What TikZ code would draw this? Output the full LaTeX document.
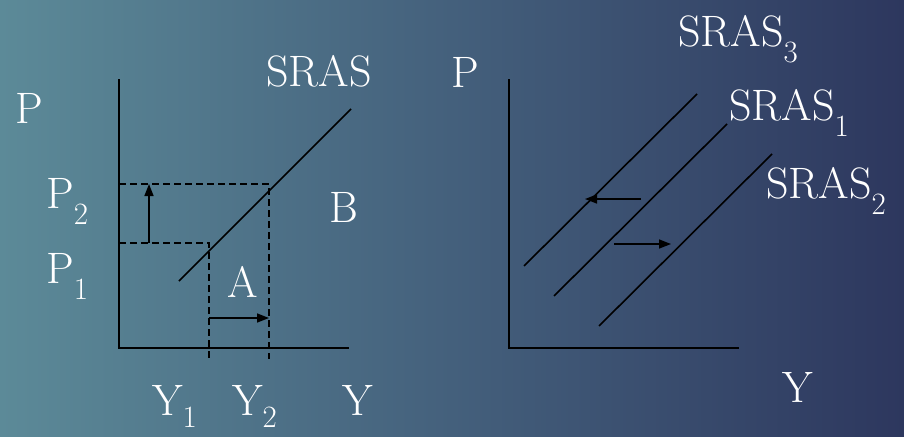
\documentclass[tikz,border=0pt]{standalone}
\usetikzlibrary{arrows.meta}
\definecolor{bgL}{RGB}{92,138,152}
\definecolor{bgM}{RGB}{68,96,124}
\definecolor{bgR}{RGB}{45,55,94}
\newcommand\subs[1]{\raisebox{-16pt}{\fontsize{31}{31}\selectfont #1}}
\newcommand\subsb[1]{\raisebox{-12pt}{\fontsize{31}{31}\selectfont #1}}
\tikzset{
  lab/.style={anchor=base west, inner sep=0pt, text=white, font=\rmfamily\fontsize{44}{44}\selectfont},
  axisline/.style={draw=black, line width=2.2pt},
  curve/.style={draw=black, line width=1.6pt},
  guide/.style={draw=black, line width=1.5pt, dash pattern=on 7pt off 4pt},
  movearrow/.style={draw=black, line width=1.5pt, -{Triangle[length=12pt,width=9pt]}}
}
\begin{document}
\begin{tikzpicture}[x=1pt,y=-1pt]
\shade[left color=bgL, right color=bgR, middle color=bgM] (0,0) rectangle (904,436);
\useasboundingbox (0,0) rectangle (904,436);
% ---------- left panel ----------
\coordinate (O1) at (119,348);
\coordinate (T1) at (119,79);
\coordinate (X1) at (349,348);
\coordinate (Sa) at (179,281);
\coordinate (Sb) at (351,109);
\coordinate (P2a) at (119,184);
\coordinate (P2b) at (269,184);
\coordinate (P2c) at (269,359);
\coordinate (P1a) at (119,243);
\coordinate (P1b) at (209,243);
\coordinate (P1c) at (209,359);
\coordinate (Ua) at (149,243);
\coordinate (Ub) at (149,184);
\coordinate (Ra) at (209,318);
\coordinate (Rb) at (269,318);
\draw[guide] (P2a) -- (P2b) -- (P2c);
\draw[guide] (P1a) -- (P1b) -- (P1c);
\draw[axisline] (T1) -- (O1) -- (X1);
\draw[curve] (Sa) -- (Sb);
\draw[movearrow] (Ua) -- (Ub);
\draw[movearrow] (Ra) -- (Rb);
\node[lab] (Pl) at (15,123) {P};
\node[lab] (P2) at (46,208) {P\subs{2}};
\node[lab] (P1) at (46,283) {P\subs{1}};
\node[lab] (SRASl) at (266,86) {SRAS};
\node[lab] (B) at (329,222) {B};
\node[lab] (A) at (227,297) {A};
\node[lab] (Y1) at (152,415) {Y\subsb{1}};
\node[lab] (Y2) at (232,415) {Y\subsb{2}};
\node[lab] (Yl) at (342,415) {Y};
% ---------- right panel ----------
\coordinate (O2) at (509,348);
\coordinate (T2) at (509,79);
\coordinate (X2) at (739,348);
\coordinate (C3a) at (524,266);
\coordinate (C3b) at (697,94);
\coordinate (C1a) at (554,296);
\coordinate (C1b) at (727,124);
\coordinate (C2a) at (599,326);
\coordinate (C2b) at (772,154);
\coordinate (La) at (641,199);
\coordinate (Lb) at (585,199);
\coordinate (Ga) at (614,244);
\coordinate (Gb) at (671,244);
\draw[axisline] (T2) -- (O2) -- (X2);
\draw[curve] (C3a) -- (C3b);
\draw[curve] (C1a) -- (C1b);
\draw[curve] (C2a) -- (C2b);
\draw[movearrow] (La) -- (Lb);
\draw[movearrow] (Ga) -- (Gb);
\node[lab] (Pr) at (451,87) {P};
\node[lab] (S3) at (678,47) {SRAS\subs{3}};
\node[lab] (S1) at (729,120) {SRAS\subs{1}};
\node[lab] (S2) at (766,198) {SRAS\subs{2}};
\node[lab] (Yr) at (782,402) {Y};
\end{tikzpicture}
\end{document}
